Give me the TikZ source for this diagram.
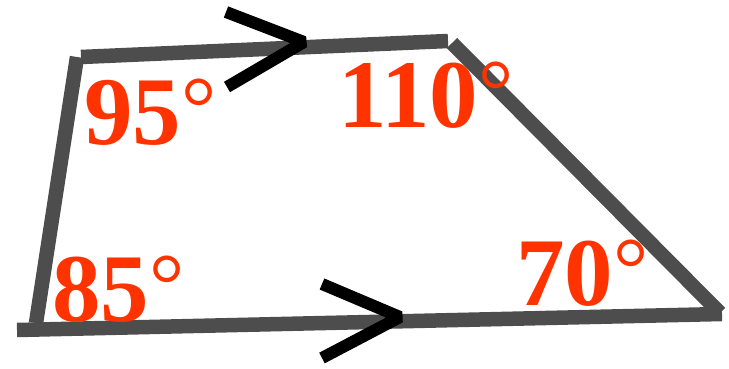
\documentclass[tikz,border=0pt]{standalone}
\usepackage{fontspec}
\setmainfont{Liberation Serif}
\definecolor{edgegray}{HTML}{4D4D4D}
\definecolor{anglered}{HTML}{FF3300}
\newcommand{\degmark}{{\fontseries{m}\fontsize{88}{88}\selectfont\raisebox{7pt}{°}}}
\tikzset{
  side/.style={draw=edgegray, line width=14.5pt, line cap=butt},
  chevron/.style={draw=black, line width=12pt, line cap=butt, line join=bevel},
  anglelabel/.style={anchor=base west, inner sep=0pt, text=anglered,
    font=\fontsize{97}{97}\selectfont\bfseries}
}
\begin{document}
\begin{tikzpicture}[x=1pt,y=-1pt]
\useasboundingbox (0,0) rectangle (729,369);
% vertex ends of each side
\coordinate (tl1) at (81,57);
\coordinate (tr1) at (448,41);
\coordinate (tr2) at (452,43);
\coordinate (br2) at (720,313);
\coordinate (br1) at (722,314);
\coordinate (bl1) at (17,330);
\coordinate (bl2) at (36,323);
\coordinate (tl2) at (77,57);
\draw[side] (tl1) -- (tr1);
\draw[side] (tr2) -- (br2);
\draw[side] (bl1) -- (br1);
\draw[side] (tl2) -- (bl2);
% parallel marks
\coordinate (ta) at (226,12);
\coordinate (tt) at (304,42);
\coordinate (tb) at (227,87);
\draw[chevron] (ta) -- (tt) -- (tb);
\coordinate (ba) at (322,284);
\coordinate (bt) at (400,317);
\coordinate (bb) at (322,358);
\draw[chevron] (ba) -- (bt) -- (bb);
% angle labels
\node[anglelabel] (a95) at (84,144) {95\degmark};
\node[anglelabel] (a110) at (338,128) {110\degmark};
\node[anglelabel] (a85) at (52,321) {85\degmark};
\node[anglelabel] (a70) at (516,305) {70\degmark};
\end{tikzpicture}
\end{document}
